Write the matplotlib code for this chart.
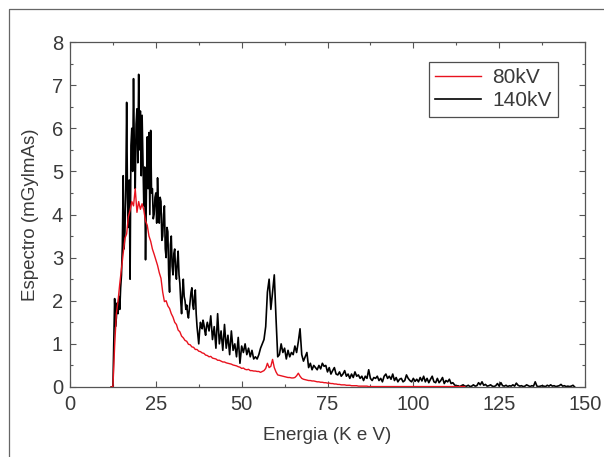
import matplotlib
matplotlib.use('Agg')
import matplotlib.pyplot as plt
from matplotlib.lines import Line2D
import numpy as np

# energy channels (keV) and spectra
# finer channels over the main peak, coarser beyond 40 keV
e140 = np.concatenate([np.arange(12.0, 40.0, 0.25), np.arange(40.0, 147.5, 0.5)])
s140 = [0.0, 0.0, 0.0, 1.0, 2.05, 1.4, 1.6, 1.95,
        1.7, 2.1, 1.8, 2.3, 2.6, 3.3, 4.9, 3.2,
        3.6, 4.6, 6.6, 4.4, 3.7, 4.8, 2.5, 5.6,
        6.0, 5.0, 7.15, 5.4, 4.6, 6.1, 6.45, 5.2,
        7.25, 5.5, 6.4, 4.9, 6.3, 5.3, 4.2, 5.1,
        2.95, 4.5, 5.8, 4.6, 5.9, 4.0, 5.95, 4.5,
        4.6, 3.9, 4.0, 4.4, 4.5, 3.8, 4.85, 4.2,
        3.8, 4.4, 4.3, 3.4, 3.5, 4.0, 4.2, 3.2,
        3.0, 3.7, 3.6, 2.6, 2.2, 3.3, 3.5, 2.8,
        2.6, 3.1, 3.2, 2.7, 2.5, 2.9, 3.15, 2.6,
        2.4, 2.0, 1.7, 2.2, 2.5, 2.1, 2.0, 1.8,
        1.9, 1.7, 1.6, 1.8, 2.0, 2.2, 2.3, 1.9,
        1.8, 2.1, 2.25, 1.7, 1.4, 1.2, 1.0, 1.3,
        1.5, 1.4, 1.35, 1.55, 1.45, 1.3, 1.2, 1.4,
        # 40 keV onwards, 0.5 keV steps
        1.5, 1.3, 1.65, 1.1, 1.4, 0.9, 1.7, 1.0, 1.3, 0.85,
        1.45, 0.9, 1.2, 0.75, 1.3, 0.85, 1.0, 0.7, 1.15, 0.55,
        0.95, 0.8, 1.0, 0.75, 0.9, 0.7, 0.85, 0.65, 0.7, 0.65,
        0.75, 0.9, 1.0, 1.1, 1.4, 2.2, 2.5, 1.8, 2.2, 2.6,
        1.6, 0.7, 0.75, 1.0, 0.8, 0.9, 0.65, 0.85, 0.7, 0.8,
        0.75, 0.95, 0.8, 1.05, 1.35, 0.75, 0.6, 0.7, 0.8, 0.45,
        0.55, 0.4, 0.5, 0.45, 0.4, 0.5, 0.42, 0.55, 0.48, 0.5,
        0.35, 0.45, 0.3, 0.38, 0.45, 0.3, 0.28, 0.35, 0.25, 0.3,
        0.38, 0.25, 0.3, 0.2, 0.3, 0.22, 0.35, 0.25, 0.28, 0.2,
        0.25, 0.15, 0.25, 0.2, 0.4, 0.2, 0.15, 0.22, 0.2, 0.25,
        0.15, 0.2, 0.12, 0.25, 0.3, 0.2, 0.25, 0.18, 0.3, 0.15,
        0.22, 0.12, 0.18, 0.2, 0.12, 0.15, 0.28, 0.2, 0.15, 0.12,
        0.2, 0.13, 0.18, 0.12, 0.22, 0.14, 0.25, 0.12, 0.2, 0.1,
        0.18, 0.25, 0.12, 0.1, 0.2, 0.1, 0.15, 0.22, 0.08, 0.15,
        0.12, 0.18, 0.08, 0.1, 0.05, 0.02, 0.03, 0.01, 0.03, 0.05,
        0.02, 0.02, 0.04, 0.01, 0.02, 0.05, 0.02, 0.03, 0.1, 0.05,
        0.12, 0.04, 0.06, 0.02, 0.03, 0.05, 0.02, 0.01, 0.03, 0.08,
        0.02, 0.1, 0.03, 0.02, 0.04, 0.01, 0.03, 0.02, 0.05, 0.02,
        0.09, 0.04, 0.02, 0.03, 0.01, 0.02, 0.05, 0.03, 0.01, 0.03,
        0.02, 0.12, 0.02, 0.01, 0.02, 0.03, 0.02, 0.01, 0.04, 0.02,
        0.05, 0.02, 0.03, 0.01, 0.02, 0.03, 0.06, 0.02, 0.03, 0.01,
        0.02, 0.01, 0.02, 0.04, 0.0]

e80 = np.arange(12.0, 115.5, 0.5)
s80 = [0.0, 0.0, 0.95, 1.7, 2.0, 2.4, 2.75, 3.1, 3.45, 3.55,
       3.95, 4.1, 4.3, 4.2, 4.6, 4.05, 4.3, 4.12, 4.25, 4.1,
       3.85, 3.75, 3.5, 3.38, 3.2, 3.08, 2.95, 2.82, 2.65, 2.52,
       2.2, 1.98, 2.0, 1.88, 1.82, 1.7, 1.62, 1.5, 1.45, 1.32,
       1.28, 1.18, 1.14, 1.08, 1.06, 0.99, 0.98, 0.93, 0.92, 0.87,
       0.87, 0.83, 0.82, 0.79, 0.78, 0.74, 0.73, 0.7, 0.71, 0.67,
       0.66, 0.65, 0.62, 0.62, 0.6, 0.58, 0.58, 0.56, 0.55, 0.54,
       0.53, 0.51, 0.5, 0.49, 0.47, 0.46, 0.43, 0.44, 0.41, 0.4,
       0.41, 0.38, 0.38, 0.37, 0.37, 0.36, 0.36, 0.34, 0.36, 0.38,
       0.43, 0.55, 0.45, 0.48, 0.64, 0.45, 0.35, 0.28, 0.27, 0.26,
       0.25, 0.24, 0.23, 0.22, 0.22, 0.21, 0.21, 0.22, 0.26, 0.32,
       0.25, 0.2, 0.18, 0.17, 0.16, 0.15, 0.15, 0.14, 0.14, 0.13,
       0.12, 0.12, 0.11, 0.11, 0.1, 0.1, 0.09, 0.09, 0.08, 0.08,
       0.07, 0.07, 0.06, 0.06, 0.05, 0.05, 0.05, 0.04, 0.04, 0.04,
       0.03, 0.03, 0.03, 0.03, 0.02, 0.02, 0.02, 0.02, 0.02, 0.02,
       0.01, 0.01, 0.01, 0.01, 0.01, 0.01, 0.01, 0.01, 0.01, 0.01,
       0.01, 0.01, 0.01, 0.01, 0.01, 0.01, 0.01, 0.01, 0.01, 0.01,
       0.01, 0.01, 0.01, 0.01, 0.01, 0.01, 0.01, 0.01, 0.01, 0.01,
       0.01, 0.01, 0.01, 0.01, 0.01, 0.01, 0.01, 0.01, 0.01, 0.01,
       0.01, 0.01, 0.01, 0.01, 0.01, 0.01, 0.01, 0.01, 0.01, 0.01,
       0.01, 0.01, 0.01, 0.01, 0.01, 0.01, 0.01, 0.01]

plt.rcParams['font.family'] = ['Liberation Sans', 'DejaVu Sans']
txt = '#3a3a3a'
edge = '#555555'

fig = plt.figure(figsize=(6.04, 4.57), dpi=100)
ax = fig.add_axes([70 / 604, 70 / 457, 515 / 604, 345 / 457])

ax.plot(e80, s80[:len(e80)], color='#e8121e', lw=1.0, label='80kV', zorder=3)
ax.plot(e140, s140[:len(e140)], color='black', lw=1.2, label='140kV', zorder=2)

ax.set_xlim(0, 150)
ax.set_ylim(0, 8)
ax.set_xticks([0, 25, 50, 75, 100, 125, 150])
ax.set_xticks(np.arange(12.5, 150, 25), minor=True)
ax.set_yticks(range(0, 9))
ax.set_yticks(np.arange(0.5, 8, 1), minor=True)
ax.tick_params(which='both', direction='in', top=True, right=True,
               colors=edge, labelcolor=txt, labelsize=14.5)
ax.tick_params(which='major', length=4.5, width=0.8)
ax.tick_params(which='minor', length=2.3, width=0.8)
ax.tick_params(axis='x', pad=6)
ax.tick_params(axis='y', pad=5)
for s in ax.spines.values():
    s.set_color(edge)
    s.set_linewidth(0.9)

ax.set_xlabel('Energia (K e V)', fontsize=13.5, color=txt, labelpad=9)
ax.set_ylabel('Espectro (mGylmAs)', fontsize=13.5, color=txt, labelpad=9)

leg = ax.legend(loc='upper right', bbox_to_anchor=(0.9476, 0.942), fontsize=15,
                frameon=True, fancybox=False, edgecolor='#222222',
                borderaxespad=0.0, handlelength=2.2, handletextpad=0.55,
                borderpad=0.3, labelspacing=0.2)
leg.get_frame().set_linewidth(0.9)
for t in leg.get_texts():
    t.set_color(txt)

# outer frame of the figure box
fig.add_artist(Line2D([8.5 / 604, 8.5 / 604, 1.0], [0.0, 1 - 9.3 / 457, 1 - 9.3 / 457],
                      transform=fig.transFigure, color='#666666', lw=0.9))

fig.savefig('out.png', dpi=100)
